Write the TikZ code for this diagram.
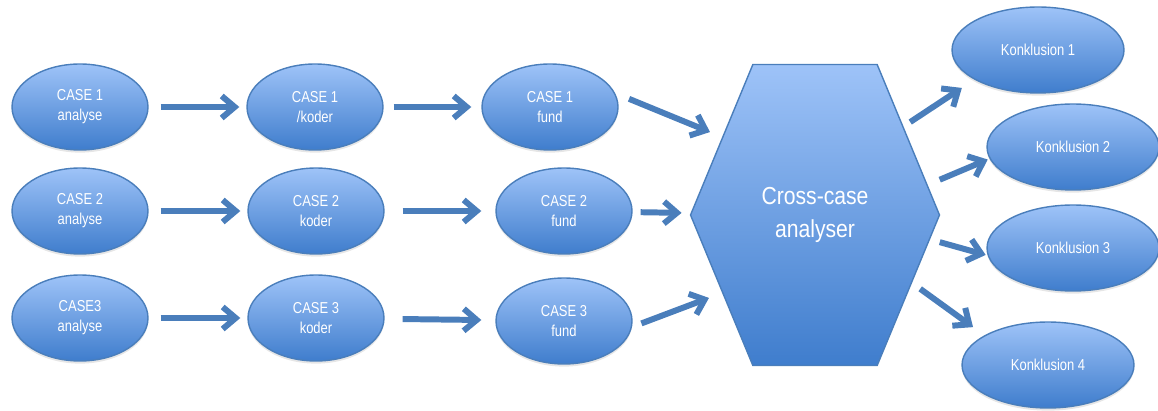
\documentclass[tikz,border=0pt]{standalone}
\usepackage{fontspec}
\newfontfamily\casefont[FakeStretch=0.82]{Liberation Sans}
\newfontfamily\crossfont[FakeStretch=0.86]{Liberation Sans}
\usetikzlibrary{shapes.geometric,shapes.symbols,arrows.meta,shadows}
\definecolor{blueline}{HTML}{4A7EBB}
\definecolor{bluetop}{HTML}{9EC3F8}
\definecolor{bluebot}{HTML}{3F7DCD}
\begin{document}
\begin{tikzpicture}[x=0.02cm,y=-0.02cm,
 every node/.style={text=white,align=center},
 case/.style={ellipse,draw=blueline,line width=0.8pt,top color=bluetop,bottom color=bluebot,
  minimum width=2.72cm,minimum height=1.72cm,inner sep=0pt,
  font=\casefont\fontsize{9}{11.5}\selectfont,
  drop shadow={opacity=0.2,shadow xshift=0pt,shadow yshift=-1.5pt}},
 concl/.style={case,minimum width=3.44cm},
 hexa/.style={signal,signal to=east and west,signal pointer angle=135,
  draw=blueline,line width=0.8pt,top color=bluetop,bottom color=bluebot,
  minimum width=4.98cm,minimum height=6.02cm,inner sep=0pt,
  font=\crossfont\fontsize{14}{18.5}\selectfont},
 arr/.style={-{Straight Barb[length=2.6mm,width=4.4mm]},line width=3.4pt,draw=blueline}]
\useasboundingbox (0,0) rectangle (1158,411);
% the three cases
\node[case] (a1) at (80,107) {CASE 1\\analyse};
\node[case] (k1) at (315,107) {CASE 1\\/koder};
\node[case] (f1) at (550,107) {CASE 1\\fund};
\node[case] (a2) at (80,211) {CASE 2\\analyse};
\node[case] (k2) at (316,211) {CASE 2\\koder};
\node[case] (f2) at (564,211) {CASE 2\\fund};
\node[case] (a3) at (80,318) {CASE3\\analyse};
\node[case] (k3) at (316,318) {CASE 3\\koder};
\node[case] (f3) at (564,321) {CASE 3\\fund};
% cross-case and conclusions
\node[hexa] (cross) at (815,215) {Cross-case\\analyser};
\node[concl] (c1) at (1038,50) {Konklusion 1};
\node[concl] (c2) at (1073,147) {Konklusion 2};
\node[concl] (c3) at (1073,248) {Konklusion 3};
\node[concl] (c4) at (1048,365) {Konklusion 4};
\draw[arr,shorten <=2.4mm,shorten >=1.4mm] (a1) -- (k1);
\draw[arr,shorten <=2mm,shorten >=2mm] (k1) -- (f1);
\draw[arr,shorten <=2.4mm,shorten >=1.4mm] (a2) -- (k2);
\draw[arr,shorten <=3.6mm,shorten >=2.8mm] (k2) -- (f2);
\draw[arr,shorten <=2.4mm,shorten >=1.4mm] (a3) -- (k3);
\draw[arr,shorten <=3.6mm,shorten >=2.8mm] (k3) -- (f3);
\draw[arr,shorten <=3mm,shorten >=2.6mm] (f1.12) -- (cross.140);
\draw[arr,shorten <=1.6mm,shorten >=1.8mm] (f2) -- (cross);
\draw[arr,shorten <=2mm,shorten >=2.8mm] (f3.-5) -- (cross.220);
\draw[arr,shorten <=1.6mm,shorten >=3mm] (cross.45) -- (c1.205);
\draw[arr,shorten <=2.6mm,shorten >=0.4mm] (cross.15) -- (c2.188);
\draw[arr,shorten <=2mm,shorten >=0.4mm] (cross.-12) -- (c3.185);
\draw[arr,shorten <=2mm,shorten >=2.8mm] (cross.-35) -- (c4.155);
\end{tikzpicture}
\end{document}
